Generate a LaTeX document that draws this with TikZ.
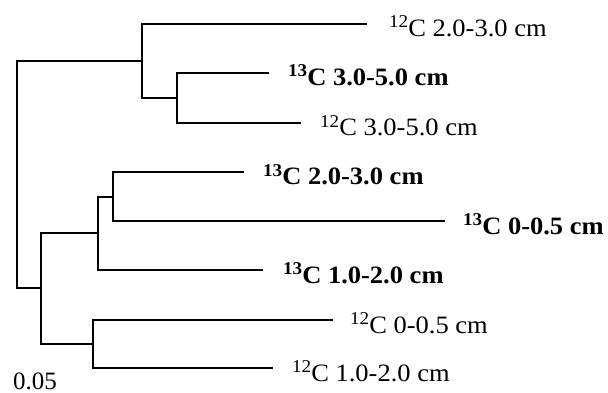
\documentclass[tikz,border=0pt]{standalone}
\usepackage{fontspec}
\setmainfont{Liberation Serif}
\newfontfamily\labelfont[FakeStretch=1.06]{Liberation Serif}
\newcommand{\iso}[1]{\raisebox{9pt}{\fontsize{18}{18}\selectfont #1}}
\begin{document}
\begin{tikzpicture}[x=1pt,y=-1pt,
  branch/.style={line width=2.1pt,line cap=rect},
  leaflabel/.style={anchor=base west,inner sep=0pt,font=\labelfont\fontsize{25}{25}\selectfont},
  boldlabel/.style={leaflabel,font=\labelfont\fontsize{25}{25}\selectfont\bfseries},
  scalelabel/.style={anchor=base west,inner sep=0pt,font=\fontsize{25}{25}\selectfont}]
\useasboundingbox (0,0) rectangle (608,393);
% leaf ends
\coordinate (e1) at (366,24);
\coordinate (e2) at (268,73);
\coordinate (e3) at (300,123);
\coordinate (e4) at (243,172);
\coordinate (e5) at (444,221);
\coordinate (e6) at (262,270);
\coordinate (e7) at (332,320);
\coordinate (e8) at (272,368);
% internal nodes
\coordinate (n2) at (177,98);
\coordinate (n1) at (142,61);
\coordinate (n5) at (113,197);
\coordinate (n4) at (98,233);
\coordinate (n6) at (93,344);
\coordinate (n3) at (41,288);
\coordinate (root) at (17,175);
% labels
\node[leaflabel] (l1) at (389,37) {\iso{12}C 2.0-3.0 cm};
\node[boldlabel] (l2) at (288,86) {\iso{13}C 3.0-5.0 cm};
\node[leaflabel] (l3) at (320,136) {\iso{12}C 3.0-5.0 cm};
\node[boldlabel] (l4) at (263,185) {\iso{13}C 2.0-3.0 cm};
\node[boldlabel] (l5) at (463,234) {\iso{13}C 0-0.5 cm};
\node[boldlabel] (l6) at (283,283) {\iso{13}C 1.0-2.0 cm};
\node[leaflabel] (l7) at (350,333) {\iso{12}C 0-0.5 cm};
\node[leaflabel] (l8) at (292,381) {\iso{12}C 1.0-2.0 cm};
\node[scalelabel] (scale) at (13,389) {0.05};
% branches
\draw[branch] (e2) -| (n2) |- (e3);
\draw[branch] (e1) -| (n1) |- (n2);
\draw[branch] (e4) -| (n5) |- (e5);
\draw[branch] (n5) -| (n4) |- (e6);
\draw[branch] (e7) -| (n6) |- (e8);
\draw[branch] (n4) -| (n3) |- (n6);
\draw[branch] (n1) -| (root) |- (n3);
\end{tikzpicture}
\end{document}
